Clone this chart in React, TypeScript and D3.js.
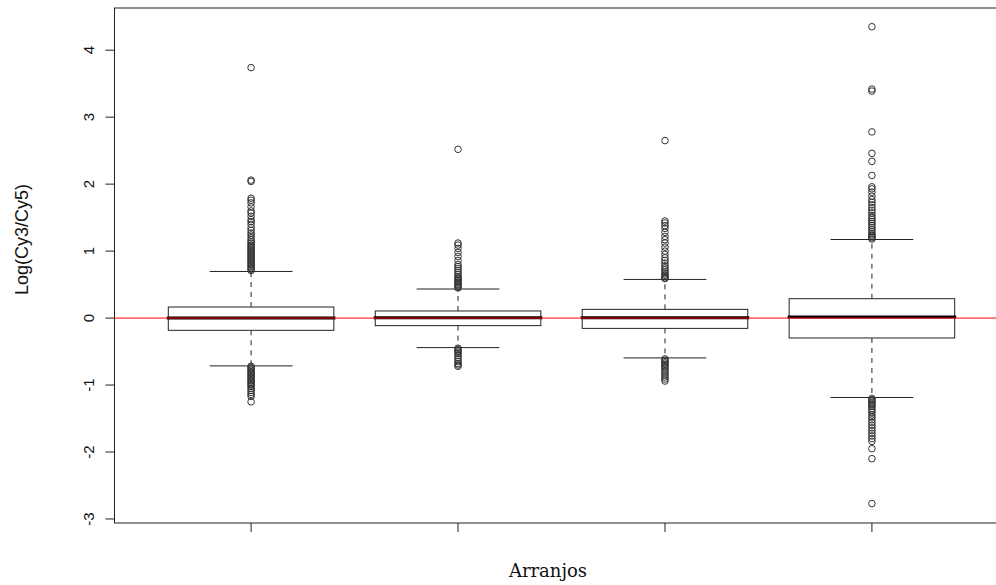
import React from "react";
import * as d3 from "d3";

// one entry per array (Arranjos 1..4)
const groups = [1, 2, 3, 4];
const medians = [0.0, 0.005, 0.005, 0.015];
const q1s = [-0.183, -0.113, -0.154, -0.297];
const q3s = [0.165, 0.106, 0.13, 0.289];
const lowWhiskers = [-0.714, -0.441, -0.595, -1.186];
const highWhiskers = [0.696, 0.434, 0.577, 1.173];

const outliers1 = [
  3.74, 2.06, 2.04, 1.79, 1.76, 1.72, 1.66, 1.6, 1.57, 1.52, 1.47, 1.44, 1.4,
  1.35, 1.31, 1.27, 1.24, 1.2, 1.17, 1.14, 1.12, 1.09, 1.07, 1.05, 1.03, 1.01,
  0.99, 0.97, 0.95, 0.93, 0.91, 0.89, 0.87, 0.85, 0.83, 0.81, 0.79, 0.77, 0.75,
  0.73, 0.71, -0.72, -0.74, -0.76, -0.78, -0.8, -0.82, -0.84, -0.86, -0.88,
  -0.9, -0.92, -0.94, -0.96, -0.98, -1.0, -1.02, -1.05, -1.08, -1.11, -1.14,
  -1.17, -1.25,
];
const outliers2 = [
  2.52, 1.12, 1.09, 1.04, 0.98, 0.92, 0.86, 0.8, 0.77, 0.74, 0.71, 0.68, 0.65,
  0.62, 0.6, 0.58, 0.56, 0.54, 0.52, 0.5, 0.48, 0.46, 0.45, -0.45, -0.47,
  -0.49, -0.51, -0.53, -0.56, -0.59, -0.62, -0.65, -0.68, -0.7, -0.72,
];
const outliers3 = [
  2.65, 1.45, 1.42, 1.38, 1.34, 1.28, 1.22, 1.17, 1.12, 1.06, 1.0, 0.95, 0.9,
  0.86, 0.82, 0.78, 0.75, 0.72, 0.69, 0.66, 0.64, 0.62, 0.6, 0.59, -0.61,
  -0.63, -0.65, -0.67, -0.69, -0.71, -0.73, -0.76, -0.79, -0.82, -0.85, -0.88,
  -0.91, -0.94,
];
const outliers4 = [
  4.35, 3.42, 3.39, 2.78, 2.46, 2.34, 2.13, 1.96, 1.93, 1.88, 1.82, 1.77, 1.73,
  1.69, 1.65, 1.61, 1.57, 1.53, 1.5, 1.47, 1.44, 1.41, 1.38, 1.35, 1.32, 1.29,
  1.26, 1.24, 1.22, 1.2, 1.18, -1.2, -1.22, -1.24, -1.26, -1.28, -1.3, -1.32,
  -1.35, -1.38, -1.41, -1.45, -1.48, -1.52, -1.56, -1.6, -1.64, -1.68, -1.72,
  -1.76, -1.8, -1.84, -1.95, -2.1, -2.77,
];
const outliers = [outliers1, outliers2, outliers3, outliers4];

const yTicks = [-3, -2, -1, 0, 1, 2, 3, 4];

const width = 996;
const height = 585;
const plot = { left: 114.5, right: 1008.5, top: 8, bottom: 523 };

const App = () => {
  const xScale = d3
    .scaleLinear()
    .domain([0.34, 4.66])
    .range([plot.left, plot.right]);
  const yScale = d3
    .scaleLinear()
    .domain([-3.06, 4.63])
    .range([plot.bottom, plot.top]);

  const boxHalf = xScale(1.4) - xScale(1);
  const capHalf = xScale(1.2) - xScale(1);
  const ink = "#222";

  return (
    <svg
      width={width}
      height={height}
      style={{ position: "absolute", left: 0, top: 0, background: "#fff" }}
    >
      {/* plot frame */}
      <rect
        x={plot.left}
        y={plot.top}
        width={plot.right - plot.left}
        height={plot.bottom - plot.top}
        fill="none"
        stroke={ink}
        strokeWidth={1}
      />

      {
        // Y axis ticks and labels
        yTicks.map((t) => (
          <g key={t} transform={`translate(0,${yScale(t)})`}>
            <line x1={plot.left - 9} x2={plot.left} stroke={ink} />
            <text
              transform={`translate(88.5,0) rotate(-90)`}
              textAnchor="middle"
              dominantBaseline="central"
              fontFamily="Liberation Sans, Arial, sans-serif"
              fontSize={15}
              fill="#111"
            >
              {t < 0 ? `-${-t}` : t}
            </text>
          </g>
        ))
      }

      {
        // X axis ticks
        groups.map((g) => (
          <line
            key={g}
            x1={xScale(g)}
            x2={xScale(g)}
            y1={plot.bottom}
            y2={plot.bottom + 9}
            stroke={ink}
          />
        ))
      }

      {
        // Boxes
        groups.map((g, i) => {
          const cx = xScale(g);
          return (
            <g key={g}>
              <line
                x1={cx}
                x2={cx}
                y1={yScale(q3s[i])}
                y2={yScale(highWhiskers[i])}
                stroke={ink}
                strokeDasharray="5,5"
              />
              <line
                x1={cx}
                x2={cx}
                y1={yScale(q1s[i])}
                y2={yScale(lowWhiskers[i])}
                stroke={ink}
                strokeDasharray="5,5"
              />
              <line
                x1={cx - capHalf}
                x2={cx + capHalf}
                y1={yScale(highWhiskers[i])}
                y2={yScale(highWhiskers[i])}
                stroke={ink}
              />
              <line
                x1={cx - capHalf}
                x2={cx + capHalf}
                y1={yScale(lowWhiskers[i])}
                y2={yScale(lowWhiskers[i])}
                stroke={ink}
              />
              <rect
                x={cx - boxHalf}
                y={yScale(q3s[i])}
                width={boxHalf * 2}
                height={yScale(q1s[i]) - yScale(q3s[i])}
                fill="#fff"
                stroke={ink}
              />
              <line
                x1={cx - boxHalf - 1.5}
                x2={cx + boxHalf + 1.5}
                y1={yScale(medians[i])}
                y2={yScale(medians[i])}
                stroke="#000"
                strokeWidth={3}
              />
              {outliers[i].map((v, j) => (
                <circle
                  key={j}
                  cx={cx}
                  cy={yScale(v)}
                  r={3.3}
                  fill="none"
                  stroke="#333"
                  strokeWidth={1}
                />
              ))}
            </g>
          );
        })
      }

      {/* reference line at zero */}
      <line
        x1={plot.left}
        x2={plot.right}
        y1={yScale(0)}
        y2={yScale(0)}
        stroke="#ff0000"
        strokeWidth={1}
      />

      {/* axis titles */}
      <text
        transform={`translate(22,295) rotate(-90)`}
        textAnchor="start"
        dominantBaseline="central"
        fontFamily="Liberation Sans, Arial, sans-serif"
        fontSize={18}
        fill="#111"
      >
        Log(Cy3/Cy5)
      </text>
      <text
        x={548}
        y={577}
        textAnchor="middle"
        fontFamily="DejaVu Serif, serif"
        fontSize={18}
        fill="#111"
      >
        Arranjos
      </text>
    </svg>
  );
};

export default App;
